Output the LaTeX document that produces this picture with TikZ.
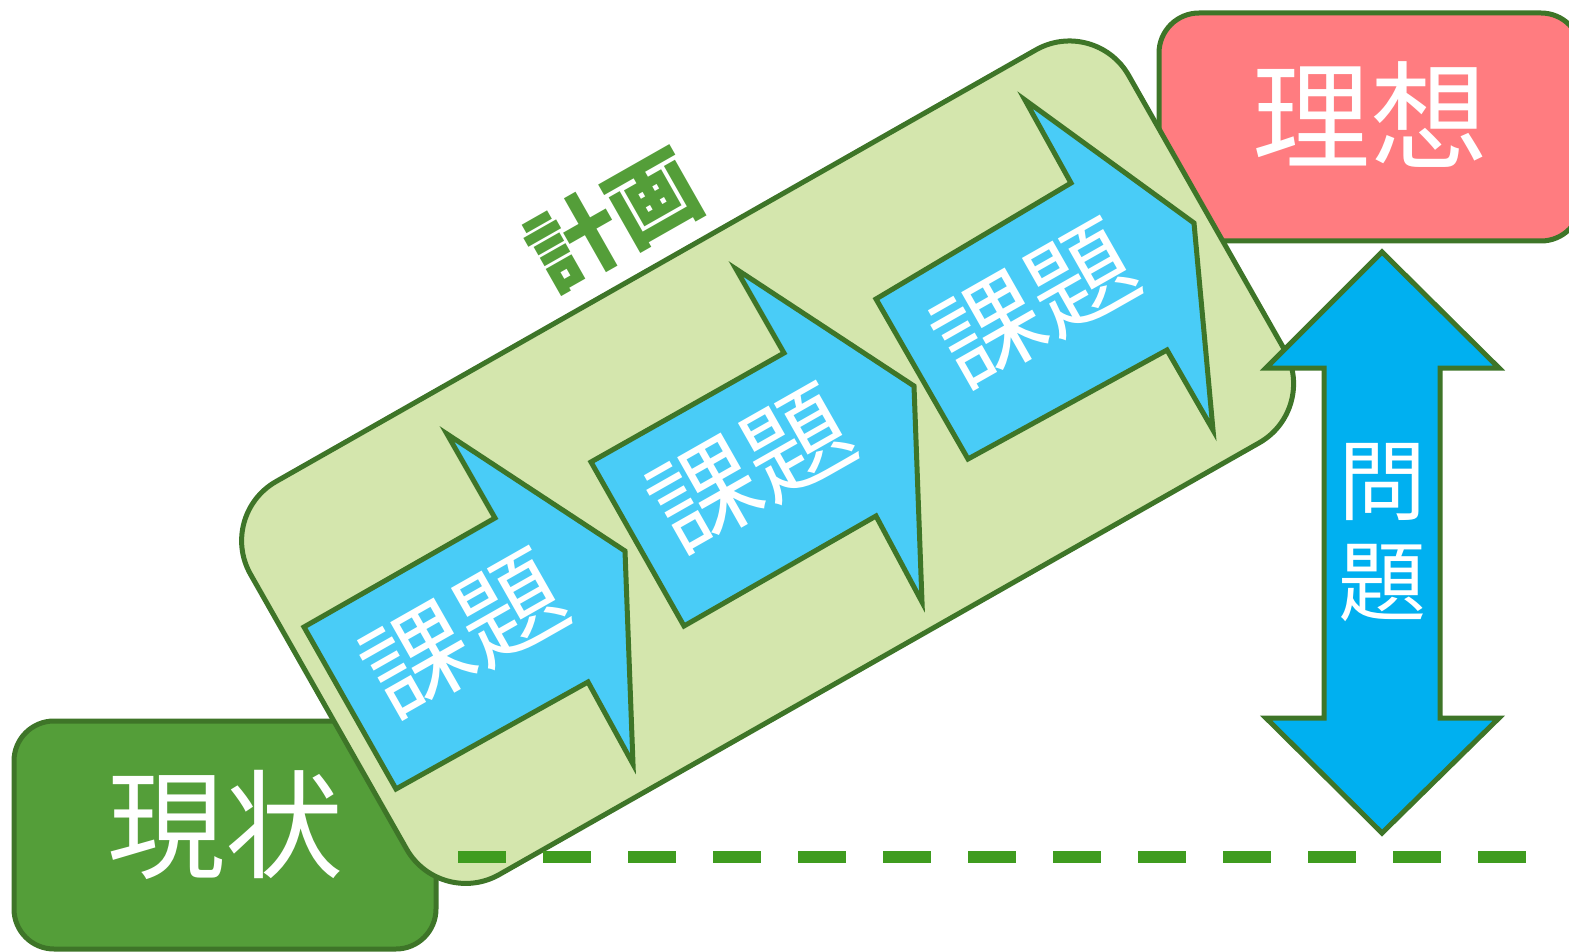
\documentclass[tikz,border=0pt]{standalone}
\usepackage{fontspec}
\setmainfont{Noto Sans CJK JP}
\definecolor{borderGreen}{HTML}{3E7528}
\definecolor{genjoGreen}{HTML}{549E39}
\definecolor{risoPink}{HTML}{FF7C80}
\definecolor{planFill}{HTML}{D4E6AD}
\definecolor{taskBlue}{HTML}{49CCF7}
\definecolor{issueBlue}{HTML}{00B0F0}
\definecolor{dashGreen}{HTML}{3F9C1F}
\begin{document}
\begin{tikzpicture}[x=1pt,y=-1pt,
  statebox/.style={draw=borderGreen, line width=5pt, rounded corners=40pt,
    minimum width=422pt, minimum height=228pt, inner sep=0pt},
  outline/.style={draw=borderGreen, line width=5pt, line join=miter, miter limit=20},
  bigLabel/.style={text=white, inner sep=0pt, font=\fontsize{118}{118}\selectfont},
  taskLabel/.style={text=white, inner sep=0pt, rotate=29.6, font=\fontsize{106}{106}\selectfont},
]
\useasboundingbox (0,0) rectangle (1569,952);

% state boxes
\node[statebox, fill=genjoGreen] (genjo) at (225,835) {};
\node[bigLabel] (genjoText) at (225,824.5) {現状};
\node[statebox, fill=risoPink] (riso) at (1370,127) {};
\node[bigLabel] (risoText) at (1370,115) {理想};

% plan band
\node[draw=borderGreen, line width=5pt, fill=planFill, rounded corners=68pt,
  rotate=29.6, minimum width=1010pt, minimum height=452pt, inner sep=0pt] (plan) at (767.6,462.2) {};

% dashed baseline
\coordinate (dashStart) at (458,857);
\coordinate (dashEnd) at (1527,857);
\draw[dashGreen, line width=12pt, dash pattern=on 48pt off 37pt] (dashStart) -- (dashEnd);

% task arrows
\draw[outline, fill=taskBlue] (304,627) -- (495,518) -- (447,434) -- (625,551) -- (633,764) -- (588,682) -- (396,789) -- cycle;
\node[taskLabel] (task1) at (465,634) {課題};
\draw[outline, fill=taskBlue] (591,462) -- (784,353) -- (736,269) -- (914,386) -- (922,602) -- (876,516) -- (684,626) -- cycle;
\node[taskLabel] (task2) at (752,469) {課題};
\draw[outline, fill=taskBlue] (876,299) -- (1071,183) -- (1025,100) -- (1194,223) -- (1213,430) -- (1167,350) -- (968,459) -- cycle;
\node[taskLabel] (task3) at (1036,304) {課題};

% plan label
\node[text=genjoGreen, inner sep=0pt, rotate=29.6, font=\fontsize{90}{90}\selectfont\bfseries] (keikaku) at (614,219.5) {計画};

% problem double arrow
\draw[outline, fill=issueBlue] (1382,252) -- (1499,368) -- (1440,368) -- (1440,718) -- (1499,718) -- (1382,833)
  -- (1266,718) -- (1324,718) -- (1324,368) -- (1266,368) -- cycle;
\node[text=white, align=center, inner sep=0pt, font=\fontsize{88}{101}\selectfont] (mondai) at (1382,533) {問\\題};
\end{tikzpicture}
\end{document}
